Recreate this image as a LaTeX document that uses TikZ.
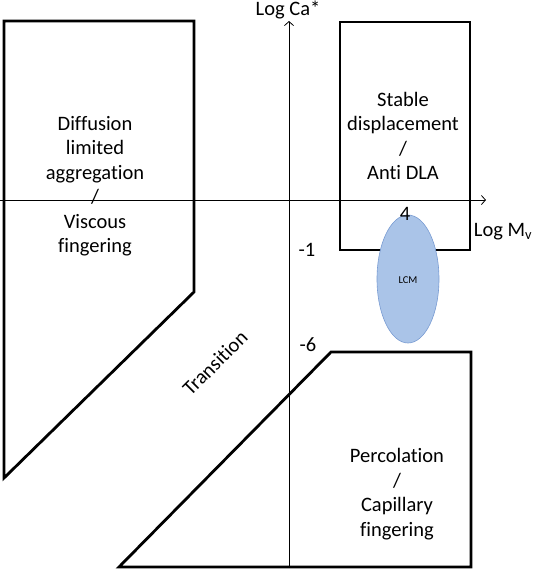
\documentclass[tikz,border=0pt]{standalone}
\usepackage{fontspec}
\setmainfont[Ligatures=NoCommon]{Carlito}
\usetikzlibrary{arrows.meta,shapes.geometric}
\definecolor{lcmfill}{RGB}{170,196,232}
\definecolor{lcmdraw}{RGB}{120,155,210}
\tikzset{
  region/.style={line width=2.8pt, line join=miter},
  axis/.style={line width=0.8pt, -{Straight Barb[length=4pt,width=9pt,line width=0.8pt]}},
  lbl/.style={font=\fontsize{20.5}{24.5}\selectfont, align=center, inner sep=0pt},
}
\begin{document}
\begin{tikzpicture}[x=1pt,y=-1pt]
\useasboundingbox (0,0) rectangle (533,571);
% axes
\coordinate (xs) at (0,200);
\coordinate (xe) at (486,200);
\coordinate (ys) at (289,567);
\coordinate (ye) at (289,21);
\draw[axis] (xs) -- (xe);
\draw[axis] (ys) -- (ye);
% regions
\draw[region] (4,21) -- (194,21) -- (194,292) -- (4,478) -- cycle;
\draw[region] (340,22) rectangle (470,250);
\draw[region] (331,352) -- (471,352) -- (471,567) -- (119,567) -- cycle;
% LCM
\node[ellipse, draw=lcmdraw, fill=lcmfill, line width=0.6pt, minimum width=62pt, minimum height=128pt, inner sep=0pt] (lcm) at (408,279) {};
\node[font=\fontsize{10.5}{12}\selectfont] (lcmt) at (408,280) {LCM};
% labels
\node[lbl] (dla) at (95,186) {Diffusion\\limited\\aggregation\\/\\Viscous\\fingering};
\node[lbl] (stab) at (403,136) {Stable\\displacement\\/\\Anti DLA};
\node[lbl] (perc) at (397,494) {Percolation\\/\\Capillary\\fingering};
\node[lbl, rotate=45] (trans) at (215,363) {Transition};
\node[lbl] (lca) at (288,10) {Log Ca*};
\node[lbl] (lmv) at (503,232) {Log M\textsubscript{v}};
\node[lbl] (m1) at (307,250) {-1};
\node[lbl] (m6) at (308,345) {-6};
\node[lbl] (four) at (405,214) {4};
\end{tikzpicture}
\end{document}
